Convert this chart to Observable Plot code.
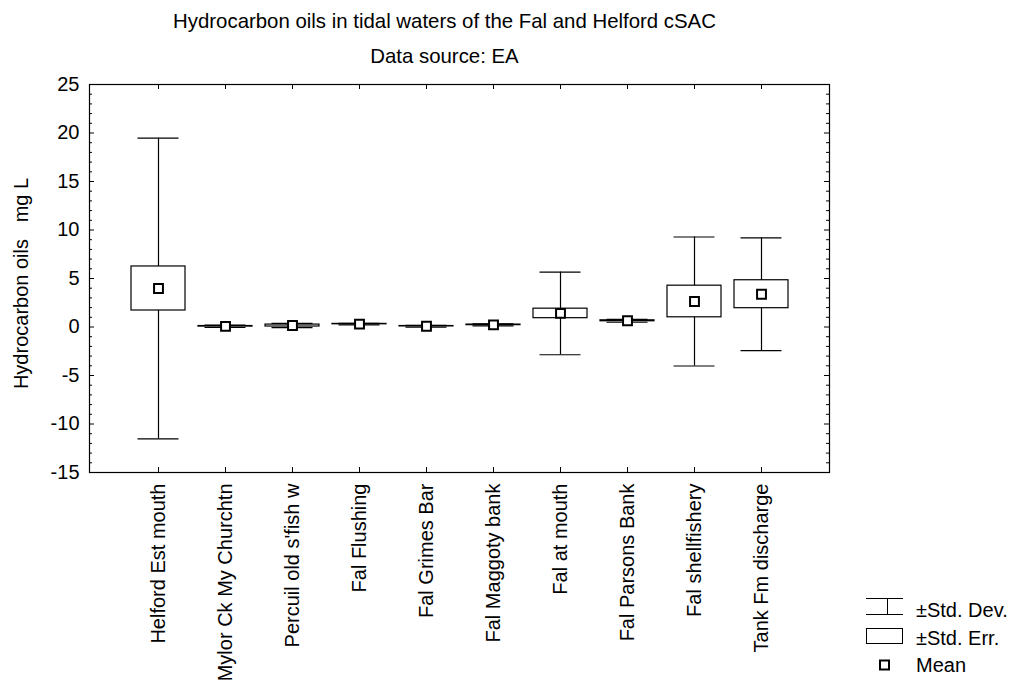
<!DOCTYPE html>
<html>
<head>
<meta charset="utf-8">
<script src="https://cdn.jsdelivr.net/npm/d3@7"></script>
<script src="https://cdn.jsdelivr.net/npm/@observablehq/plot@0.6"></script>
<style>
  html, body { margin: 0; padding: 0; background: #fff; }
  #wrap { position: relative; width: 1013px; height: 686px; font-family: "Liberation Sans", Arial, sans-serif; color: #000; }
  .t { width: 889px; text-align: center; font-size: 20.4px; line-height: 24px; margin: 0; font-weight: normal; }
  #title { padding-top: 9px; }
  #subtitle { margin-top: 11px; }
  #chart svg text { white-space: pre; }
  #chart { height: 618px; }
  #legend { position: absolute; left: 0; top: 0; pointer-events: none; }
</style>
</head>
<body>
<div id="wrap">
  <h2 id="title" class="t"></h2>
  <h3 id="subtitle" class="t"></h3>
  <div id="chart"></div>
  <svg id="legend" width="1013" height="686"></svg>
</div>
<script>
const titleText = "Hydrocarbon oils in tidal waters of the Fal and Helford cSAC";
const subtitleText = "Data source: EA";
const yLabel = "Hydrocarbon oils   mg L";

const sites = [
  "Helford Est mouth", "Mylor Ck My Churchtn", "Percuil old s'fish w", "Fal Flushing",
  "Fal Grimes Bar", "Fal Maggoty bank", "Fal at mouth", "Fal Parsons Bank",
  "Fal shellfishery", "Tank Fm discharge"
];
const means = [3.97, 0.07, 0.15, 0.30, 0.08, 0.22, 1.40, 0.64, 2.63, 3.38];
const stdDevs = [15.5, 0.12, 0.22, 0.08, 0.10, 0.10, 4.26, 0.15, 6.65, 5.81];
const stdErrs = [2.27, 0.03, 0.10, 0.02, 0.02, 0.03, 0.49, 0.05, 1.63, 1.44];

const yTicks = [-15, -10, -5, 0, 5, 10, 15, 20, 25];
const yMinor = d3.range(-15, 26).filter(v => v % 5 !== 0);

const legendLabels = ["\u00B1Std. Dev.", "\u00B1Std. Err.", "Mean"];

const rows = sites.map((s, i) => ({
  site: s, mean: means[i], sd: stdDevs[i], se: stdErrs[i]
}));

document.getElementById("title").textContent = titleText;
document.getElementById("subtitle").textContent = subtitleText;

const W = 1013, H = 618, mL = 89, mR = 184, mT = 16, mB = 214;
const fw = W - mL - mR, fh = H - mT - mB;

const chart = Plot.plot({
  width: W, height: H,
  marginLeft: mL, marginRight: mR, marginTop: mT, marginBottom: mB,
  style: { fontFamily: "'Liberation Sans', Arial, sans-serif", fontSize: "20px", color: "#000", background: "#fff" },
  x: { type: "band", domain: sites, paddingInner: 0.197, paddingOuter: 0.599 },
  y: { domain: [-15, 25] },
  marks: [
    Plot.frame({ stroke: "#000", strokeWidth: 1.2 }),
    // inside ticks on left / right
    Plot.ruleY(yMinor, { y: d => d, insetRight: fw - 3, stroke: "#000" }),
    Plot.ruleY(yTicks, { y: d => d, insetRight: fw - 5, stroke: "#000" }),
    Plot.ruleY(yMinor, { y: d => d, insetLeft: fw - 3, stroke: "#000" }),
    Plot.ruleY(yTicks, { y: d => d, insetLeft: fw - 5, stroke: "#000" }),
    // inside ticks on top / bottom
    Plot.ruleX(sites, { x: d => d, insetBottom: fh - 5, stroke: "#000" }),
    Plot.ruleX(sites, { x: d => d, insetTop: fh - 5, stroke: "#000" }),
    // std dev whisker
    Plot.ruleX(rows, { x: "site", y1: d => d.mean - d.sd, y2: d => d.mean + d.sd, stroke: "#000", strokeWidth: 1.2 }),
    // std err box
    Plot.barY(rows, { x: "site", y1: d => d.mean - d.se, y2: d => d.mean + d.se, fill: "#fff", stroke: "#000", strokeWidth: 1.2 }),
    // caps
    Plot.tickY(rows, { x: "site", y: d => d.mean + d.sd, insetLeft: 6.5, insetRight: 6.5, stroke: "#000", strokeWidth: 1.2 }),
    Plot.tickY(rows, { x: "site", y: d => d.mean - d.sd, insetLeft: 6.5, insetRight: 6.5, stroke: "#000", strokeWidth: 1.2 }),
    // mean
    Plot.dot(rows, { x: "site", y: "mean", symbol: "square", r: 5, fill: "#fff", stroke: "#000", strokeWidth: 2 }),
    // axes
    Plot.axisY({ ticks: yTicks, tickSize: 0, tickPadding: 10, fontSize: 20, label: null, tickFormat: d => String(d) }),
    Plot.axisX({ tickSize: 0, tickPadding: 11, tickRotate: -90, fontSize: 20, label: null }),
    Plot.text([yLabel], { frameAnchor: "left", textAnchor: "middle", rotate: -90, dx: -68, dy: 5, fontSize: 20, fill: "#000" })
  ]
});
document.getElementById("chart").appendChild(chart);

// legend
const lg = d3.select("#legend");
const textX = 916;
const baselines = [617, 645, 672];
lg.selectAll("text").data(legendLabels).join("text")
  .attr("x", textX).attr("y", (d, i) => baselines[i])
  .attr("font-family", "'Liberation Sans', Arial, sans-serif")
  .attr("font-size", 20).attr("fill", "#000").text(d => d);
// std dev glyph
lg.append("line").attr("x1", 866).attr("x2", 903).attr("y1", 598.5).attr("y2", 598.5).attr("stroke", "#000");
lg.append("line").attr("x1", 866).attr("x2", 903).attr("y1", 614.5).attr("y2", 614.5).attr("stroke", "#000");
lg.append("line").attr("x1", 887.5).attr("x2", 887.5).attr("y1", 598.5).attr("y2", 614.5).attr("stroke", "#000");
// std err glyph
lg.append("rect").attr("x", 866.5).attr("y", 628.5).attr("width", 36).attr("height", 15).attr("fill", "#fff").attr("stroke", "#000");
// mean glyph
lg.append("rect").attr("x", 880).attr("y", 660.5).attr("width", 9).attr("height", 9).attr("fill", "#fff").attr("stroke", "#000").attr("stroke-width", 2);
</script>
</body>
</html>
